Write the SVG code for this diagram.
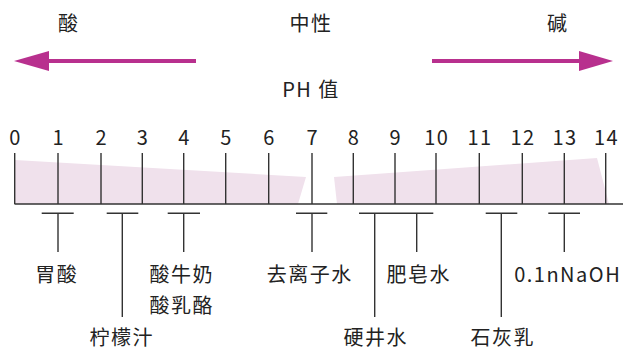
<svg xmlns="http://www.w3.org/2000/svg" width="623" height="348" viewBox="0 0 623 348">
<style>
text{font-family:"Noto Sans CJK SC","Noto Sans",sans-serif;font-size:20px;letter-spacing:1.5px;fill:#222;text-anchor:middle;dominant-baseline:central}
.ln{stroke:#333;stroke-width:1.4;fill:none}
.band{fill:#f0e1ec}
.arr{fill:#b8308e}
</style>
<rect width="623" height="348" fill="#fff"/>
<g id="top-labels">
<text x="68.7" y="22">酸</text>
<text x="311" y="22">中性</text>
<text x="557.7" y="22">碱</text>
<text x="311" y="88">PH 值</text>
</g>
<g id="arrows">
<rect class="arr" x="48" y="59" width="148" height="4"/>
<polygon class="arr" points="14,61 49,51 49,71"/>
<rect class="arr" x="432" y="59" width="148" height="4"/>
<polygon class="arr" points="613,61 579,51 579,71"/>
</g>
<g id="bands">
<polygon class="band" points="15,160 306,177 298,204 15,204"/>
<polygon class="band" points="334,177 597,158 609,204 337,204"/>
</g>
<g id="scale">
<line class="ln" x1="14.5" y1="204" x2="623" y2="204"/>
<path class="ln" d="M14.7 153V204M58 153V204M101 153V204M142.3 153V204M183.7 153V204M225.7 153V204M268.7 153V204M312 153V204M353.3 153V204M395 153V204M436 153V204M479.3 153V204M522.3 153V204M564.3 153V204M605.7 153V204"/>
<text x="15.5" y="136">0</text>
<text x="58.8" y="136">1</text>
<text x="101.8" y="136">2</text>
<text x="143" y="136">3</text>
<text x="184.5" y="136">4</text>
<text x="226.5" y="136">5</text>
<text x="269.5" y="136">6</text>
<text x="312.8" y="136">7</text>
<text x="354" y="136">8</text>
<text x="395.8" y="136">9</text>
<text x="436.8" y="136">10</text>
<text x="480" y="136">11</text>
<text x="523" y="136">12</text>
<text x="565" y="136">13</text>
<text x="606.5" y="136">14</text>
</g>
<g id="connectors">
<path class="ln" d="M41.7 213.3H73.7M58 213.3V252"/>
<path class="ln" d="M106.7 213.3H138.3M122.3 213.3V317"/>
<path class="ln" d="M167.7 213.3H200M183.7 213.3V252"/>
<path class="ln" d="M296 213.3H327.3M312 213.3V252"/>
<path class="ln" d="M359 213.3H433.3M374.7 213.3V317M416.7 213.3V252"/>
<path class="ln" d="M485.7 213.3H517.3M501.3 213.3V317"/>
<path class="ln" d="M548.3 213.3H580M564.3 213.3V252"/>
</g>
<g id="node-weisuan"><text x="56.7" y="273">胃酸</text></g>
<g id="node-ningmengzhi"><text x="121.7" y="336">柠檬汁</text></g>
<g id="node-suanniunai"><text x="181.7" y="273">酸牛奶</text><text x="181.7" y="304">酸乳酪</text></g>
<g id="node-quzishui"><text x="309.7" y="273">去离子水</text></g>
<g id="node-yingjingshui"><text x="375.7" y="336">硬井水</text></g>
<g id="node-feizaoshui"><text x="418.7" y="273">肥皂水</text></g>
<g id="node-shihuiru"><text x="502.7" y="336">石灰乳</text></g>
<g id="node-naoh"><text x="567.7" y="273">0.1nNaOH</text></g>
</svg>
